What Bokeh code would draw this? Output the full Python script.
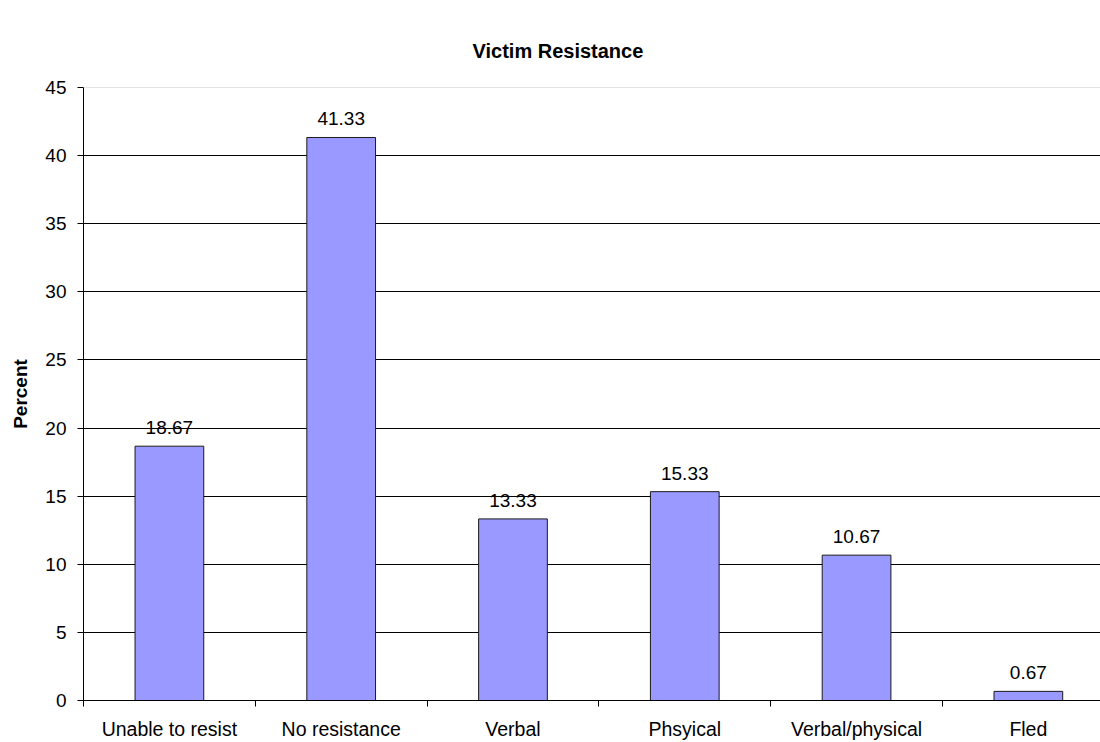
from bokeh.plotting import figure
from bokeh.models import ColumnDataSource, Range1d, FixedTicker, LabelSet, Span
from bokeh.core.properties import value
from bokeh.embed import file_html
from bokeh.resources import INLINE

categories = ["Unable to resist", "No resistance", "Verbal", "Phsyical", "Verbal/physical", "Fled"]
values = [18.67, 41.33, 13.33, 15.33, 10.67, 0.67]
label_texts = ["18.67", "41.33", "13.33", "15.33", "10.67", "0.67"]
y_ticks = [0, 5, 10, 15, 20, 25, 30, 35, 40, 45]

FONT = "Liberation Sans"
n = len(categories)
centers = [i + 0.5 for i in range(n)]
src = ColumnDataSource(dict(x=centers, top=values, lab=label_texts))

p = figure(width=1100, height=742, output_backend="svg", toolbar_location=None,
           x_range=Range1d(0, 5.92), y_range=Range1d(0, 45),
           min_border_left=83, min_border_right=0, min_border_bottom=40, min_border_top=87)
p.background_fill_color = "white"
p.border_fill_color = "white"
p.outline_line_color = None

p.title.text = "Victim Resistance"
p.title.text_font = FONT
p.title.text_font_size = "20px"
p.title.text_font_style = "bold"
p.title.text_color = "black"
p.title.align = "left"
p.title.offset = 389
p.title.standoff = 52

p.vbar(x="x", top="top", width=0.4, source=src, fill_color="#9999FF",
       line_color="#1a1a1a", line_width=1)

labels = LabelSet(x="x", y="top", text="lab", source=src, text_align="center",
                  text_baseline="alphabetic", y_offset=12, text_font=value(FONT),
                  text_font_size=value("19px"), text_color="black")
p.add_layout(labels)

p.add_layout(Span(location=y_ticks[-1], dimension="width", line_color="#c8c8c8", line_width=1))

xa = p.xaxis[0]
xa.ticker = FixedTicker(ticks=centers, minor_ticks=list(range(n + 1)))
xa.major_label_overrides = {c: name for c, name in zip(centers, categories)}
xa.major_tick_in = 0
xa.major_tick_out = 0
xa.minor_tick_in = 0
xa.minor_tick_out = 6
xa.minor_tick_line_color = "black"
xa.axis_line_color = "black"
xa.major_label_standoff = 11
xa.major_label_text_font = FONT
xa.major_label_text_font_size = "19.5px"
xa.major_label_text_color = "black"

ya = p.yaxis[0]
ya.ticker = FixedTicker(ticks=y_ticks)
ya.major_tick_in = 0
ya.major_tick_out = 6
ya.minor_tick_out = 0
ya.minor_tick_in = 0
ya.major_tick_line_color = "black"
ya.axis_line_color = "black"
ya.major_label_standoff = 11
ya.major_label_text_font = FONT
ya.major_label_text_font_size = "19px"
ya.major_label_text_color = "black"
ya.axis_label = "Percent"
ya.axis_label_text_font = FONT
ya.axis_label_text_font_size = "19px"
ya.axis_label_text_font_style = "bold"
ya.axis_label_text_color = "black"
ya.axis_label_standoff = 11

p.xgrid.visible = False
p.ygrid.ticker = FixedTicker(ticks=y_ticks[1:-1])
p.ygrid.grid_line_color = "black"
p.ygrid.grid_line_width = 1

open("out.html", "w").write(file_html(p, INLINE))
